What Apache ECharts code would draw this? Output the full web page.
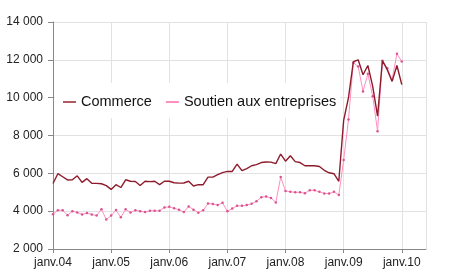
<!DOCTYPE html>
<html><head><meta charset="utf-8">
<script src="https://cdn.jsdelivr.net/npm/echarts@6/dist/echarts.min.js"></script>
<style>html,body{margin:0;padding:0;background:#fff}#c{width:450px;height:280px}</style>
</head><body><div id="c"></div>
<script>
// Months from janv. 2004 to juin 2010 (axis range); data from janv. 2004 to janv. 2010
var startYear = 2004, monthCount = 78;
var months = [];
for (var k = 0; k < monthCount; k++) {
  var y = startYear + Math.floor(k / 12), m = (k % 12) + 1;
  months.push(y + '-' + (m < 10 ? '0' + m : m));
}
var yTicks = [2000, 4000, 6000, 8000, 10000, 12000, 14000];

var commerce = [
  5460, 5980, 5820, 5650, 5660, 5870, 5520, 5720, 5470, 5470, 5450, 5350,
  5150, 5400, 5250, 5660, 5580, 5570, 5360, 5580, 5560, 5580, 5400, 5580,
  5580, 5500, 5480, 5490, 5580, 5330, 5400, 5400, 5800, 5800, 5930, 6040,
  6100, 6100, 6490, 6140, 6250, 6400, 6460, 6570, 6600, 6590, 6510, 7020,
  6640, 6930, 6620, 6570, 6400, 6400, 6400, 6360, 6160, 6030, 5980, 5580,
  8800, 10000, 11900, 12000, 11210, 11700, 10600, 9020, 11960, 11480, 10860, 11700,
  10690
];
var soutien = [
  3840, 4050, 4050, 3790, 4000, 3930, 3830, 3900, 3820, 3770, 4100, 3560,
  3770, 4060, 3680, 4100, 3930, 4050, 4000, 3950, 4020, 4020, 4020, 4200,
  4230, 4150, 4080, 3950, 4250, 4080, 3920, 4050, 4400, 4380, 4320, 4440,
  3990, 4140, 4280, 4280, 4320, 4390, 4520, 4740, 4770, 4700, 4460, 5800,
  5070, 5020, 5000, 5000, 4950, 5100, 5100, 5020, 4930, 4930, 5020, 4850,
  6700, 8840, 11850, 11650, 10330, 11260, 10070, 8230, 11950, 11560, 10950, 12320,
  11910
];

var darkRed = '#8e1b2b', pink = '#ff8fc2', pinkDot = '#d9558f';
var chart = echarts.init(document.getElementById('c'), null, {renderer: 'canvas'});
var font = 'Liberation Sans, Arial, sans-serif';
chart.setOption({
  animation: false,
  backgroundColor: '#ffffff',
  grid: {left: 53, right: 24, top: 22, bottom: 31, containLabel: false},
  legend: {
    left: 55, top: 83,
    padding: [11, 4, 8, 8],
    backgroundColor: '#ffffff',
    icon: 'rect',
    itemWidth: 13, itemHeight: 2, itemGap: 14,
    textStyle: {fontFamily: font, fontSize: 14.5, color: '#111', lineHeight: 16},
    data: [
      {name: 'Commerce', itemStyle: {color: '#b05a64'}},
      {name: 'Soutien aux entreprises', itemStyle: {color: pink}}
    ],
    z: 1
  },
  xAxis: {
    type: 'category',
    data: months,
    boundaryGap: false,
    axisLine: {lineStyle: {color: '#888', width: 1}},
    axisTick: {length: 4, lineStyle: {color: '#888'}, interval: function (i) { return i % 12 === 0; }},
    axisLabel: {
      interval: function (i) { return i % 12 === 0; },
      margin: 8, fontFamily: font, fontSize: 12, color: '#222',
      formatter: function (v) { return 'janv.' + v.slice(2, 4); }
    },
    splitLine: {show: true, interval: function (i) { return i % 12 === 0 || i === monthCount - 1; },
      lineStyle: {color: '#e2e2e2', width: 1}}
  },
  yAxis: {
    type: 'value',
    min: yTicks[0], max: yTicks[yTicks.length - 1], interval: 2000,
    axisLine: {show: true, lineStyle: {color: '#888', width: 1}},
    axisTick: {show: true, length: 5, lineStyle: {color: '#888'}},
    axisLabel: {
      margin: 10, fontFamily: font, fontSize: 12, color: '#222',
      formatter: function (v) { return String(v).replace(/\B(?=(\d{3})+(?!\d))/g, ' '); }
    },
    splitLine: {lineStyle: {color: '#e2e2e2', width: 1}}
  },
  series: [
    {
      name: 'Commerce', type: 'line', data: commerce,
      showSymbol: false, symbol: 'none',
      lineStyle: {color: darkRed, width: 1.4},
      itemStyle: {color: darkRed}, z: 3
    },
    {
      name: 'Soutien aux entreprises', type: 'line', data: soutien,
      symbol: 'circle', symbolSize: 2.5, showSymbol: true,
      lineStyle: {color: pink, width: 1},
      itemStyle: {color: pinkDot}, z: 2
    }
  ]
});
</script></body></html>
